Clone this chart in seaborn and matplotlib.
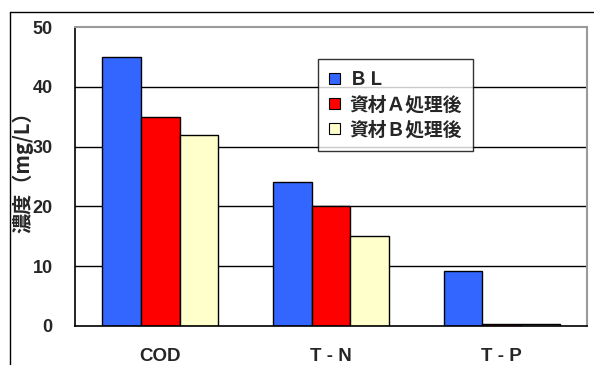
import matplotlib
matplotlib.use("Agg")
import matplotlib.pyplot as plt
from matplotlib.lines import Line2D
from matplotlib.patches import Patch
import seaborn as sns
import pandas as pd

# Water quality by item, before and after treatment
categories = ["COD", "T - N", "T - P"]
series_names = ["ＢＬ", "資材Ａ処理後", "資材Ｂ処理後"]
bl_values = [45, 24, 9.2]
a_values = [35, 20, 0.3]
b_values = [32, 15, 0.3]
y_ticks = [0, 10, 20, 30, 40, 50]
y_label = "濃度（mg/L）"

colors = ["#3366FF", "#FF0000", "#FFFFCC"]

rows = []
for name, vals in zip(series_names, [bl_values, a_values, b_values]):
    for cat, v in zip(categories, vals):
        rows.append({"item": cat, "series": name, "value": v})
df = pd.DataFrame(rows)

sns.set_style("white")
plt.rcParams["font.family"] = ["Liberation Sans", "Noto Sans CJK JP", "DejaVu Sans"]
jp = ["Noto Sans CJK JP", "DejaVu Sans"]

W, H = 594, 365
fig = plt.figure(figsize=(W / 100, H / 100), dpi=100)
ax = fig.add_axes([75 / W, 1 - 326 / H, (587 - 75) / W, (326 - 27) / H])

ax.set_axisbelow(True)
for t in y_ticks[1:-1]:
    ax.axhline(t, color="black", lw=1.0, zorder=0)

sns.barplot(data=df, x="item", y="value", hue="series", order=categories,
            hue_order=series_names, palette=colors, width=0.68, gap=0,
            edgecolor="black", linewidth=1.0, saturation=1, ax=ax, legend=False)

ax.set_xlim(-0.5, 2.5)
ax.set_ylim(0, 50)
ax.set_yticks(y_ticks)
ax.set_yticklabels([str(t) for t in y_ticks], fontsize=13, fontweight="bold")
ax.tick_params(axis="y", length=0, pad=16)
ax.set_xticks(range(len(categories)))
ax.set_xticklabels(categories, fontsize=13.5, fontweight="bold")
ax.tick_params(axis="x", which="major", length=0, pad=16)
ax.set_xticks([0.5, 1.5], minor=True)
ax.tick_params(axis="x", which="minor", direction="in", length=4, width=1, color="black")
ax.set_xlabel("")
ax.set_ylabel(y_label, fontsize=14.5, fontweight="bold", family=jp)
ax.yaxis.set_label_coords(-42 / (587 - 75), 0.53)

for side in ["left", "bottom"]:
    ax.spines[side].set_color("black")
    ax.spines[side].set_linewidth(1.2)
for side in ["top", "right"]:
    ax.spines[side].set_color("#9a9a9a")
    ax.spines[side].set_linewidth(1.5)
    ax.spines[side].set_visible(True)

handles = [Patch(facecolor=c, edgecolor="black", linewidth=0.8) for c in colors]
leg = ax.legend(handles, series_names, loc="upper left",
                bbox_to_anchor=(318 / W, 1 - 59 / H), bbox_transform=fig.transFigure,
                borderaxespad=0, frameon=True, fancybox=False, edgecolor="black",
                prop={"family": jp, "weight": "bold", "size": 13.5},
                handlelength=0.55, handleheight=0.55, handletextpad=0.5,
                labelspacing=0.32, borderpad=0.6)
leg.get_frame().set_linewidth(1.0)
leg.set_zorder(5)

# outer frame lines
fig.add_artist(Line2D([10 / W, 10 / W], [0, 1 - 12 / H], color="black", lw=1.0,
                      transform=fig.transFigure))
fig.add_artist(Line2D([10 / W, 1], [1 - 12 / H, 1 - 12 / H], color="black", lw=1.0,
                      transform=fig.transFigure))

fig.savefig("out.png", dpi=100)
